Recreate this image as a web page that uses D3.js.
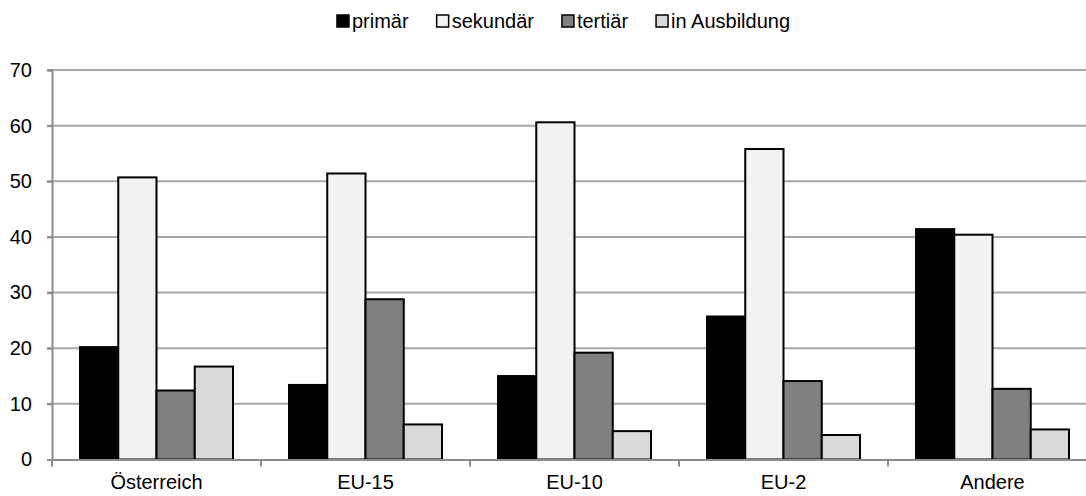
<!DOCTYPE html>
<html>
<head>
<meta charset="utf-8">
<script src="https://cdn.jsdelivr.net/npm/d3@7"></script>
<style>
  body { margin: 0; background: #fff; }
  svg { display: block; font-family: "Liberation Sans", Arial, sans-serif; }
</style>
</head>
<body>
<div id="chart"></div>
<script>
const categories = ["Österreich", "EU-15", "EU-10", "EU-2", "Andere"];
const seriesNames = ["primär", "sekundär", "tertiär", "in Ausbildung"];
const primaer = [20.2, 13.4, 15.0, 25.7, 41.4];
const sekundaer = [50.7, 51.4, 60.6, 55.8, 40.4];
const tertiaer = [12.4, 28.8, 19.2, 14.1, 12.7];
const ausbildung = [16.7, 6.3, 5.1, 4.4, 5.4];
const yTicks = [0, 10, 20, 30, 40, 50, 60, 70];
const colors = ["#000000", "#f2f2f2", "#808080", "#d9d9d9"];

const seriesValues = [primaer, sekundaer, tertiaer, ausbildung];

const width = 1086, height = 496;

const svg = d3.select("#chart")
  .append("svg")
  .attr("width", width)
  .attr("height", height);

// plot area runs past the right edge of the picture, as in the original
const x = d3.scaleBand()
  .domain(categories)
  .range([52, 1097]);

const gap = 28;
const xInner = d3.scaleBand()
  .domain(seriesNames)
  .range([gap, x.bandwidth() - gap]);

const y = d3.scaleLinear()
  .domain([0, 70])
  .range([459.5, 70]);

// gridlines
svg.append("g")
  .selectAll("line")
  .data(yTicks.filter(d => d > 0))
  .enter()
  .append("line")
  .attr("x1", 47)
  .attr("x2", width)
  .attr("y1", d => y(d))
  .attr("y2", d => y(d))
  .attr("stroke", "#a6a6a6")
  .attr("stroke-width", 2);

// y axis
const yAxis = svg.append("g")
  .attr("transform", "translate(52,0)")
  .call(d3.axisLeft(y).tickValues(yTicks).tickSize(5).tickPadding(15));
yAxis.select(".domain").attr("stroke", "#8c8c8c").attr("stroke-width", 2);
yAxis.selectAll(".tick line").attr("stroke", "#8c8c8c").attr("stroke-width", 2);
yAxis.selectAll("text")
  .attr("font-size", "20px")
  .attr("font-family", "Liberation Sans, Arial, sans-serif")
  .attr("fill", "#000");

// bars
const groups = svg.append("g")
  .selectAll("g")
  .data(categories)
  .enter()
  .append("g")
  .attr("transform", d => `translate(${x(d)},0)`);

groups.selectAll("rect")
  .data((c, i) => seriesNames.map((s, j) => ({ s, j, v: seriesValues[j][i] })))
  .enter()
  .append("rect")
  .attr("x", d => xInner(d.s))
  .attr("width", xInner.bandwidth())
  .attr("y", d => y(d.v))
  .attr("height", d => y(0) - y(d.v))
  .attr("fill", d => colors[d.j])
  .attr("stroke", "#000")
  .attr("stroke-width", 2);

// x axis
const xAxis = svg.append("g")
  .attr("transform", `translate(0,${y(0)})`)
  .call(d3.axisBottom(x).tickSize(0).tickPadding(15));
xAxis.select(".domain").attr("stroke", "#8c8c8c").attr("stroke-width", 2);
xAxis.selectAll("text")
  .attr("font-size", "20px")
  .attr("font-family", "Liberation Sans, Arial, sans-serif")
  .attr("fill", "#000");

// category separators
svg.append("g")
  .selectAll("line")
  .data(categories)
  .enter()
  .append("line")
  .attr("x1", d => x(d))
  .attr("x2", d => x(d))
  .attr("y1", y(0))
  .attr("y2", y(0) + 7)
  .attr("stroke", "#8c8c8c")
  .attr("stroke-width", 2);

// legend
const legend = svg.append("g");
let lx = 0;
seriesNames.forEach((name, i) => {
  const item = legend.append("g").attr("transform", `translate(${lx},0)`);
  item.append("rect")
    .attr("x", 1)
    .attr("y", 15)
    .attr("width", 12)
    .attr("height", 12)
    .attr("fill", colors[i])
    .attr("stroke", "#000")
    .attr("stroke-width", 1.5);
  const t = item.append("text")
    .attr("x", 16)
    .attr("y", 28)
    .attr("font-size", "20px")
    .attr("fill", "#000")
    .text(name);
  lx += 16 + t.node().getComputedTextLength() + 27;
});
const legendWidth = lx - 27;
legend.attr("transform", `translate(${563 - legendWidth / 2},0)`);
</script>
</body>
</html>
